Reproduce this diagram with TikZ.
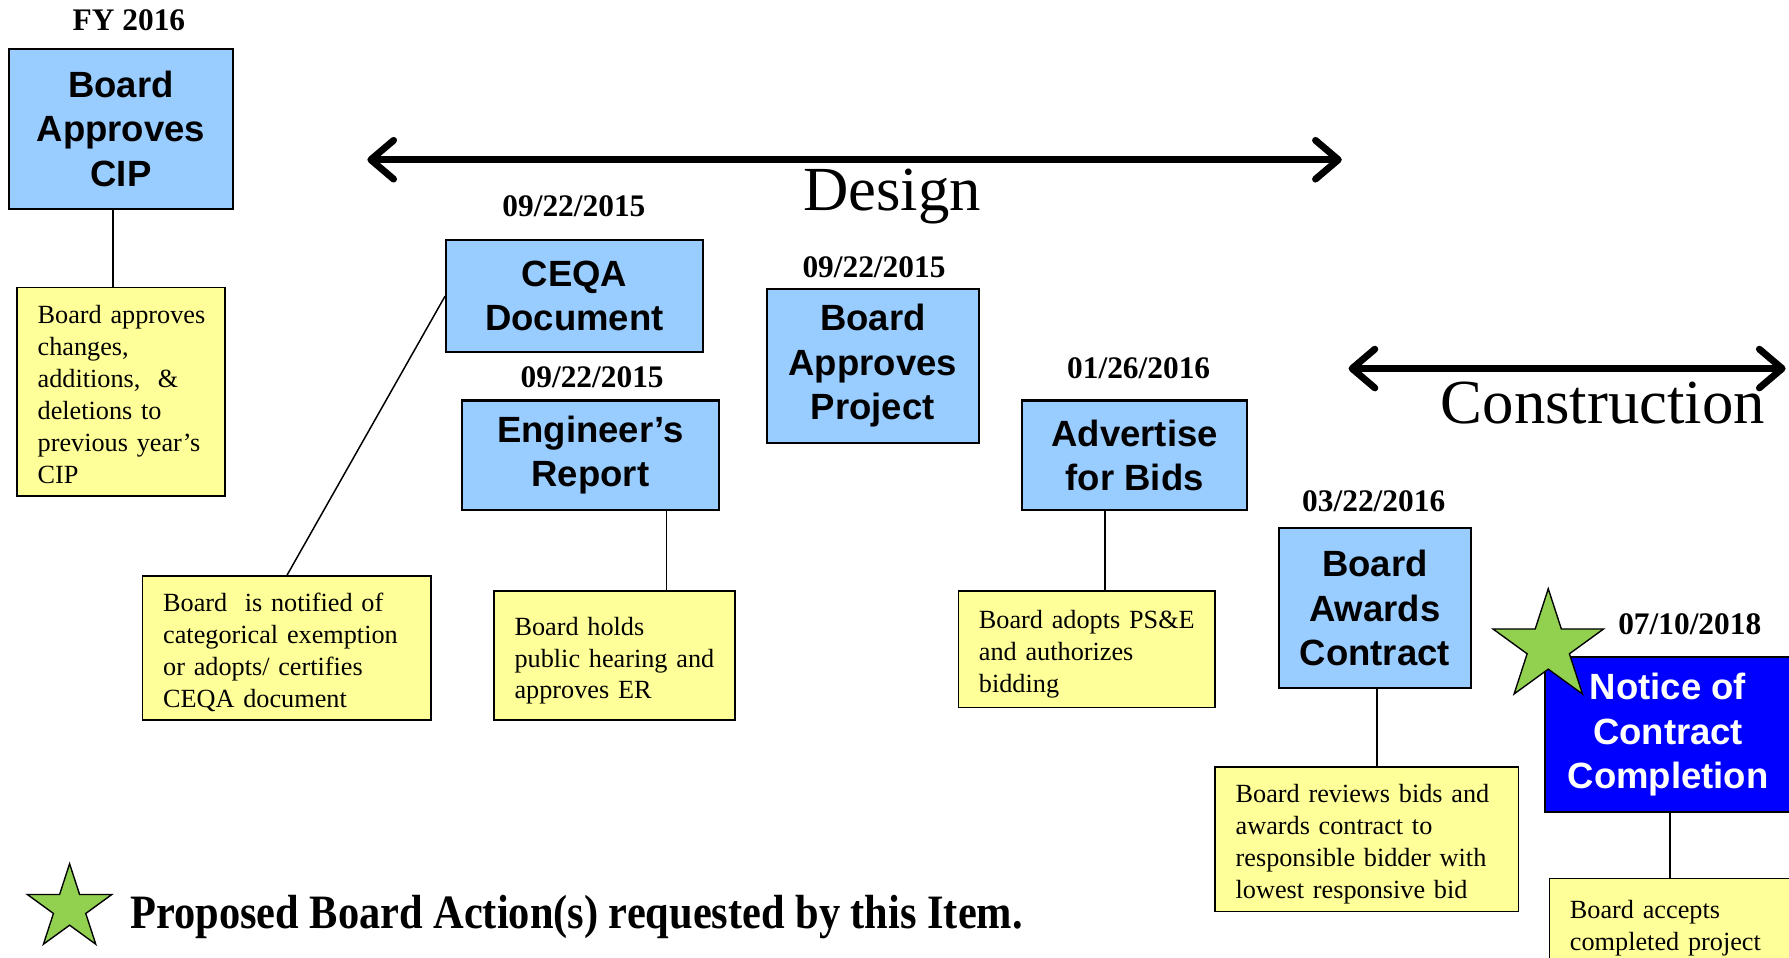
\documentclass[tikz,border=0pt]{standalone}
\usepackage{fontspec}
\setmainfont{Liberation Serif}
\newfontfamily\arialf{Liberation Sans}
\usetikzlibrary{arrows.meta,shapes.geometric}
\definecolor{lblue}{HTML}{99CCFF}
\definecolor{lyellow}{HTML}{FFFF99}
\definecolor{sgreen}{HTML}{92D050}
\definecolor{nblue}{HTML}{0000FF}
\newcommand{\notelines}[1]{\raisebox{0pt}[\dimexpr\height+9pt\relax][\depth]{\begin{tabular}{@{}l@{}}#1\end{tabular}}}
\begin{document}
\begin{tikzpicture}[x=1pt,y=-1pt,
  bluebox/.style={draw=black, line width=1.8pt, fill=lblue, align=center, inner sep=0pt,
    font=\arialf\bfseries\fontsize{32}{39}\selectfont},
  note/.style={draw=black, line width=1.5pt, fill=lyellow, align=left, inner xsep=18pt, inner ysep=0pt,
    font=\fontsize{23}{28}\selectfont},
  datelbl/.style={inner sep=0pt, font=\bfseries\fontsize{27.5}{30}\selectfont},
  phaselbl/.style={inner sep=0pt, font=\fontsize{55}{60}\selectfont},
  link/.style={line width=1.3pt},
  phase/.style={line width=6pt, {Straight Barb[length=20pt,width=34pt,round]}-{Straight Barb[length=20pt,width=34pt,round]}},
  starmark/.style={star, star points=5, star point ratio=2.618, inner sep=0pt, draw=black, line width=1.2pt, fill=sgreen}
]
\useasboundingbox (0,0) rectangle (1568,839);
\clip (0,0) rectangle (1568,839);

% phase arrows
\coordinate (d1) at (322,140);
\coordinate (d2) at (1176,140);
\draw[phase] (d1) -- (d2);
\node[phaselbl] (design) at (782,172) {Design};
\coordinate (c1) at (1182,323);
\draw[phase] (c1) -- (1565,323) coordinate (c2);
\node[phaselbl] (constr) at (1405,353) {Construction};

% CIP
\node[datelbl] (fy) at (113,18) {FY 2016};
\node[bluebox, minimum width=196pt, minimum height=140pt] (cip) at (106,113) {Board\\Approves\\CIP};
\node[note, text width=146pt, minimum width=182pt, minimum height=183pt] (y1) at (106,343.5)
  {\notelines{Board approves\\changes,\\additions,\ \ \&\\deletions to\\previous year’s\\CIP}};
\draw[link] ([xshift=-7pt]cip.south) -- ([xshift=-7pt]y1.north);

% CEQA
\node[datelbl] (dceqa) at (503,181) {09/22/2015};
\node[bluebox, minimum width=225pt, minimum height=98pt] (ceqa) at (503.5,259.5) {CEQA\\Document};
\node[note, text width=217pt, minimum width=253pt, minimum height=126pt] (y2) at (251.5,568)
  {\notelines{Board\ \ is notified of\\categorical exemption\\or adopts/ certifies\\CEQA document}};
\draw[link] (ceqa.west) -- (y2.north);

% Engineer's report
\node[datelbl] (deng) at (519,331) {09/22/2015};
\node[bluebox, minimum width=225pt, minimum height=96pt] (eng) at (517.5,399) {Engineer’s\\Report};
\node[note, text width=175pt, minimum width=211pt, minimum height=113pt] (y3) at (538.5,574.5)
  {\notelines{Board holds\\public hearing and\\approves ER}};
\draw[link] (eng.south -| 584,0) -- (y3.north -| 584,0);

% Board approves project
\node[datelbl] (dbap) at (766,234) {09/22/2015};
\node[bluebox, minimum width=186pt, minimum height=135pt] (bap) at (765,320.5) {Board\\Approves\\Project};

% Advertise
\node[datelbl] (dadv) at (998,323) {01/26/2016};
\node[bluebox, minimum width=197pt, minimum height=96pt] (adv) at (994.5,399) {Advertise\\for Bids};
\node[note, text width=189pt, minimum width=225pt, minimum height=102pt] (y4) at (952.5,569)
  {\notelines{Board adopts PS\&E\\and authorizes\\bidding}};
\draw[link] (adv.south -| 968.5,0) -- (y4.north -| 968.5,0);

% Awards
\node[datelbl] (dawd) at (1204,439) {03/22/2016};
\node[bluebox, minimum width=168pt, minimum height=140pt] (awd) at (1205,533) {Board\\Awards\\Contract};
\node[note, text width=230pt, minimum width=266pt, minimum height=127pt] (y5) at (1198,735.5)
  {\notelines{Board reviews bids and\\awards contract to\\responsible bidder with\\lowest responsive bid}};
\draw[link] (awd.south -| 1207,0) -- (y5.north -| 1207,0);

% Notice of completion
\node[datelbl] (dnoc) at (1481,547) {07/10/2018};
\node[bluebox, fill=nblue, text=white, minimum width=216pt, minimum height=136pt] (noc) at (1462,644) {Notice of\\Contract\\Completion};
\node[note, text width=196pt, minimum width=232pt, minimum height=78pt] (y6) at (1474,809)
  {\notelines{Board accepts\\completed project}};
\draw[link] (noc.south -| 1463.5,0) -- (y6.north -| 1463.5,0);
\node[starmark, minimum size=102pt] (star1) at (1357,567) {};

% legend
\node[starmark, minimum size=78pt] (star2) at (61,796) {};
\node[anchor=west, inner sep=0pt, font=\bfseries\fontsize{42}{46}\selectfont] (legend) at (114,804)
  {\scalebox{0.885}[1]{Proposed Board Action(s) requested by this Item.}};
\end{tikzpicture}
\end{document}
